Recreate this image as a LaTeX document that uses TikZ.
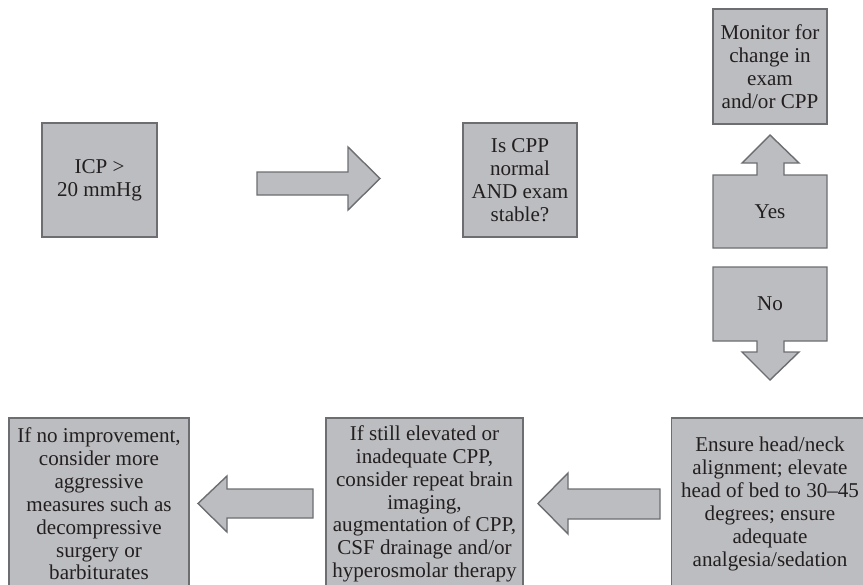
\documentclass[tikz,border=0pt]{standalone}
\usepackage{fontspec}
\setmainfont{Liberation Serif}
\definecolor{boxfill}{RGB}{188,189,192}
\definecolor{boxline}{RGB}{109,110,113}
\definecolor{boxtext}{RGB}{35,31,32}
\tikzset{
  box/.style={draw=boxline,fill=boxfill,line width=0.8pt,align=center,inner sep=0pt,
    text=boxtext,font=\fontsize{12}{13}\selectfont},
  blockarr/.style={draw=boxline,fill=boxfill,line width=0.8pt,line join=miter},
  lbl/.style={align=center,text=boxtext,font=\fontsize{12}{13}\selectfont}
}
\begin{document}
\begin{tikzpicture}[x=0.02cm,y=-0.02cm]
		\useasboundingbox (0,0) rectangle (863,585);
		\clip (0,0) rectangle (863,585);
		% top row
		\node[box,minimum width=2.3cm,minimum height=2.28cm] (icp) at (99.5,180) {ICP >\\20 mmHg};
		\node[box,minimum width=2.28cm,minimum height=2.28cm] (cpp) at (520,180) {Is CPP\\normal\\AND exam\\stable?};
		\node[box,minimum width=2.28cm,minimum height=2.3cm] (monitor) at (770,66.5) {Monitor for\\change in\\exam\\and/or CPP};
		\draw[blockarr] (257,172) -- (348,172) -- (348,147) -- (380,178.5) -- (348,210) -- (348,195) -- (257,195) -- cycle;
		% yes / no
		\draw[blockarr] (713,175) -- (757,175) -- (757,163) -- (742,163) -- (770,135) -- (799,163) -- (784,163) -- (784,175) -- (827,175) -- (827,248) -- (713,248) -- cycle;
		\node[lbl] (yes) at (770,211.5) {Yes};
		\draw[blockarr] (713,267) -- (827,267) -- (827,341) -- (784,341) -- (784,352) -- (799,352) -- (770,380) -- (742,352) -- (757,352) -- (757,341) -- (713,341) -- cycle;
		\node[lbl] (no) at (770,304) {No};
		% bottom row
		\node[box,minimum width=3.94cm,minimum height=3.44cm] (ensure) at (770,504) {Ensure head/neck\\alignment; elevate\\head of bed to 30--45\\degrees; ensure\\adequate\\analgesia/sedation};
		\node[box,minimum width=3.94cm,minimum height=3.44cm] (still) at (424.5,504) {If still elevated or\\inadequate CPP,\\consider repeat brain\\imaging,\\augmentation of CPP,\\CSF drainage and/or\\hyperosmolar therapy};
		\node[box,minimum width=3.6cm,minimum height=3.44cm] (noimp) at (99,504) {If no improvement,\\consider more\\aggressive\\measures such as\\decompressive\\surgery or\\barbiturates};
		\draw[blockarr] (660,489) -- (568,489) -- (568,473) -- (538,503.5) -- (568,534) -- (568,519) -- (660,519) -- cycle;
		\draw[blockarr] (313,489) -- (227,489) -- (227,476) -- (198,503.5) -- (227,532) -- (227,518) -- (313,518) -- cycle;
\end{tikzpicture}
\end{document}
